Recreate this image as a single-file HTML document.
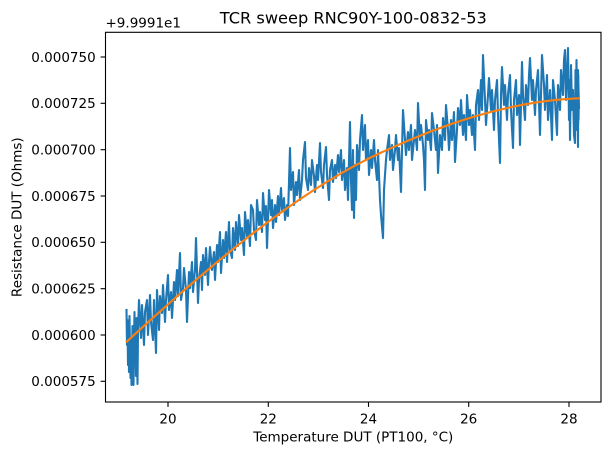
<!DOCTYPE html>
<html>
<head>
<meta charset="utf-8">
<style>
html,body{margin:0;padding:0;background:#fff;}
svg{display:block;}
text{font-family:"DejaVu Sans","Liberation Sans",sans-serif;fill:#000;}
.tk{font-size:13.5px;}
</style>
</head>
<body>
<svg width="611" height="455" viewBox="0 0 611 455" xmlns="http://www.w3.org/2000/svg">
<rect x="0" y="0" width="611" height="455" fill="#fff"/>
<defs><clipPath id="ax"><rect x="105.5" y="32.3" width="495.5" height="369.7"/></clipPath></defs>
<g clip-path="url(#ax)" fill="none" stroke-linejoin="round" stroke-linecap="square">
<polyline stroke="#1f77b4" stroke-width="2.1" points="126.5,310 127,345 127.5,320 128,365 128.5,330 129,372 129.5,316 130,350 130.5,378 131,340 131.5,385 132,355 132.5,326 133,370 133.5,385 134,345 134.5,312 135,360 135.5,335 136,376 136.5,318 137,348 137.5,384 138,330 139,300 141,338 142,305 144,345 145,312 147,300 148,335 150,295 151,322 153,340 154,300 156,353 157,290 159,330 160,296 162,313 163,285 165,322 166,300 168,275 169,310 171,292 172,318 174,282 175,300 177,270 178,296 180,253 181,300 183,288 184,268 186,290 187,322 189,272 190,288 192,262 193,292 195,270 196,238 198,303 199,280 201,262 202,290 203,255 205,275 206,248 208,285 209,262 210,247 212,270 214,252 215,280 217,245 218,262 220,232 221,273 223,240 224,258 226,232 227,262 229,222 230,250 232,258 233,228 235,250 236,222 238,246 239,215 241,240 242,228 244,255 245,212 247,236 248,220 250,246 251,205 253,210 254,230 256,240 257,200 259,225 260,212 262,232 263,193 265,220 266,206 267,248 268,220 269,190 271,215 272,200 273,228 275,205 276,222 278,196 279,215 281,188 282,210 284,198 285,220 287,205 288,216 290,148 291,190 293,172 294,205 296,182 297,195 299,170 300,200 302,180 303,160 305,142 306,178 308,190 309,168 311,185 312,160 314,176 315,192 317,165 318,180 320,143 321,172 323,188 324,165 326,147 327,175 329,200 330,170 332,160 333,182 335,165 336,178 338,155 339,172 341,150 342,180 344,160 345,190 347,168 348,200 350,122 351,180 352,210 353,150 354,218 355,165 356,200 357,145 359,170 360,140 362,115 363,150 365,125 366,160 368,140 369,175 371,150 372,168 374,140 375,160 377,180 378,150 380,200 381,215 383,238 384,190 386,160 387,150 389,135 390,160 392,145 393,170 395,150 396,135 398,160 399,148 401,192 402,150 403,110 405,140 406,155 408,132 409,150 411,125 412,160 414,140 415,130 417,150 418,103 420,140 421,125 423,145 424,160 425,190 426,120 428,140 429,130 431,150 432,113 434,130 436,150 437,125 438,173 440,135 442,150 443,118 445,140 446,105 448,130 449,150 451,120 452,140 454,112 455,162 457,130 458,108 460,125 461,100 463,135 464,115 466,140 467,95 469,125 470,110 472,135 473,115 475,150 476,105 478,90 479,120 481,80 482,110 483,55 485,100 486,125 488,95 489,78 491,110 492,90 494,130 495,100 497,80 498,115 500,163 501,95 502,67 504,105 505,85 507,120 508,95 510,75 511,110 513,148 514,100 516,80 517,115 519,95 520,145 522,62 523,95 525,120 526,85 528,105 529,75 530,58 532,100 533,80 535,115 536,90 538,70 540,135 541,95 542,55 544,85 545,110 547,75 548,120 550,90 552,140 553,80 555,100 557,135 558,85 560,110 561,70 563,95 564,60 565,50 566,100 567,75 568,48 569,120 569.5,80 570,140 571,65 572,110 573,90 574,135 575,143 575.5,70 576,115 576.5,60 577,130 577.5,90 578,147 578.3,75 578.5,120 578.8,100 578,130 577,105 578.5,85 576,118 578,70 579,108"/>
<path stroke="#ff7f0e" stroke-width="2.1" d="M126.7,341.7 C207.5,267.4 288.2,198.7 369,158.3 C438.8,124.8 508.5,101.1 578.3,98.3"/>
</g>
<!-- spines -->
<rect x="105.5" y="32.3" width="495.5" height="369.7" fill="none" stroke="#000" stroke-width="1.1"/>
<!-- x ticks -->
<g stroke="#000" stroke-width="1.1">
<line x1="168" y1="402" x2="168" y2="406.9"/>
<line x1="268.3" y1="402" x2="268.3" y2="406.9"/>
<line x1="368.5" y1="402" x2="368.5" y2="406.9"/>
<line x1="468.7" y1="402" x2="468.7" y2="406.9"/>
<line x1="569" y1="402" x2="569" y2="406.9"/>
</g>
<g class="tk" text-anchor="middle">
<text x="168" y="423.5">20</text>
<text x="268.3" y="423.5">22</text>
<text x="368.5" y="423.5">24</text>
<text x="468.7" y="423.5">26</text>
<text x="569" y="423.5">28</text>
</g>
<!-- y ticks -->
<g stroke="#000" stroke-width="1.1">
<line x1="100.6" y1="57" x2="105.5" y2="57"/>
<line x1="100.6" y1="103.3" x2="105.5" y2="103.3"/>
<line x1="100.6" y1="149.7" x2="105.5" y2="149.7"/>
<line x1="100.6" y1="196" x2="105.5" y2="196"/>
<line x1="100.6" y1="242.3" x2="105.5" y2="242.3"/>
<line x1="100.6" y1="288.7" x2="105.5" y2="288.7"/>
<line x1="100.6" y1="335" x2="105.5" y2="335"/>
<line x1="100.6" y1="381.3" x2="105.5" y2="381.3"/>
</g>
<g class="tk" text-anchor="end">
<text x="95.7" y="61.9">0.000750</text>
<text x="95.7" y="108.2">0.000725</text>
<text x="95.7" y="154.6">0.000700</text>
<text x="95.7" y="200.9">0.000675</text>
<text x="95.7" y="247.2">0.000650</text>
<text x="95.7" y="293.6">0.000625</text>
<text x="95.7" y="339.9">0.000600</text>
<text x="95.7" y="386.2">0.000575</text>
</g>
<text class="tk" x="105.5" y="27.3">+9.9991e1</text>
<text x="353.3" y="23.5" text-anchor="middle" style="font-size:16.2px">TCR sweep RNC90Y-100-0832-53</text>
<text class="tk" x="353.3" y="441.5" text-anchor="middle">Temperature DUT (PT100, °C)</text>
<text class="tk" transform="translate(21.5,217.2) rotate(-90)" text-anchor="middle">Resistance DUT (Ohms)</text>
</svg>
</body>
</html>
